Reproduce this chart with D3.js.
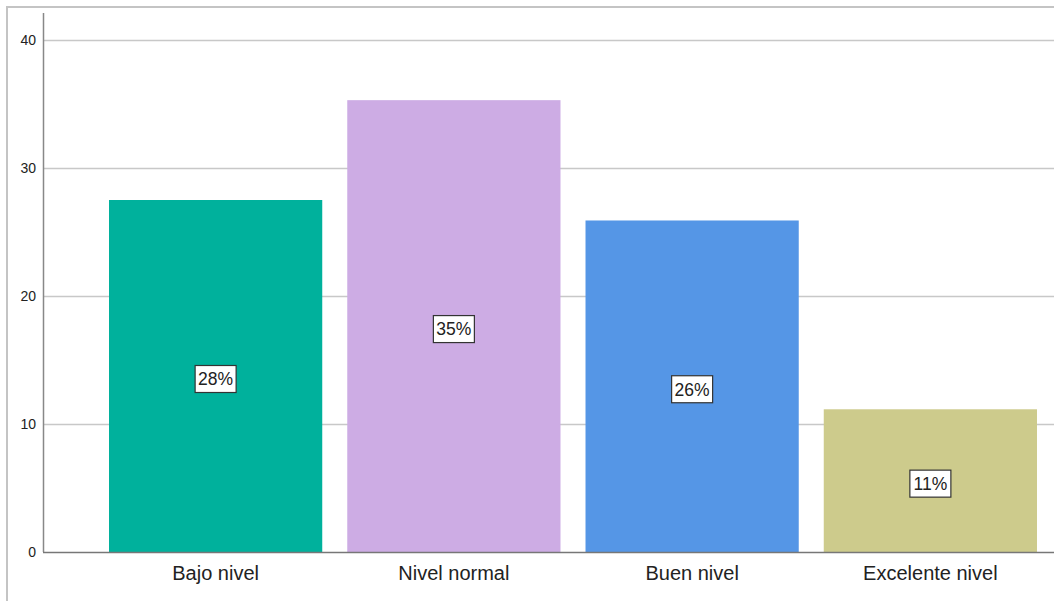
<!DOCTYPE html>
<html><head><meta charset="utf-8">
<script src="https://cdn.jsdelivr.net/npm/d3@7"></script>
<style>
html,body{margin:0;padding:0;background:#fff;}
svg{display:block;font-family:Arial,"Liberation Sans",sans-serif;}
</style></head>
<body>
<svg id="chart" width="1054" height="601"></svg>
<script>
const categories = ["Bajo nivel", "Nivel normal", "Buen nivel", "Excelente nivel"];
const values = [27.5, 35.3, 25.9, 11.15];
const labels = ["28%", "35%", "26%", "11%"];
const colors = ["#00B19C", "#CDACE4", "#5596E6", "#CDCB8C"];
const yTicks = [0, 10, 20, 30, 40];

(function () {
const svg = d3.select("#chart");
const mLeft = 43, mRight = 1054, mTop = 13, mBottom = 552;

// outer frame
svg.append("path").attr("d", "M7,601 L7,7 L1054,7")
  .attr("fill", "none").attr("stroke", "#c4c4c4").attr("stroke-width", 2);

const y = d3.scaleLinear().domain([0, 40]).range([mBottom, 40]);
const x = d3.scaleBand().domain(categories).range([96.5, 1049.5]).paddingInner(0.105).paddingOuter(0.0525);

// gridlines
svg.append("g").selectAll("line").data(yTicks.filter(d => d > 0)).join("line")
  .attr("x1", mLeft).attr("x2", mRight)
  .attr("y1", d => Math.round(y(d)) + 0.5).attr("y2", d => Math.round(y(d)) + 0.5)
  .attr("stroke", "#c8c8c8").attr("stroke-width", 1.5);

// y axis
const yAxis = d3.axisLeft(y).tickValues(yTicks).tickSize(0).tickPadding(7);
const gy = svg.append("g").attr("transform", `translate(${mLeft},0)`).call(yAxis);
gy.select(".domain").remove();
gy.selectAll("text").attr("font-size", 14).attr("fill", "#222").attr("font-family", "Arial, 'Liberation Sans', sans-serif");
svg.append("line").attr("x1", mLeft + 0.5).attr("x2", mLeft + 0.5).attr("y1", mTop).attr("y2", mBottom)
  .attr("stroke", "#888").attr("stroke-width", 1.5);

// bars
svg.append("g").selectAll("rect").data(categories).join("rect")
  .attr("x", d => x(d)).attr("width", x.bandwidth())
  .attr("y", (d, i) => y(values[i])).attr("height", (d, i) => y(0) - y(values[i]))
  .attr("fill", (d, i) => colors[i]);

// x axis line
svg.append("line").attr("x1", mLeft).attr("x2", mRight).attr("y1", mBottom + 0.5).attr("y2", mBottom + 0.5)
  .attr("stroke", "#777").attr("stroke-width", 1.5);

// x axis labels
const xAxis = d3.axisBottom(x).tickSize(0).tickPadding(14);
const gx = svg.append("g").attr("transform", `translate(0,${mBottom})`).call(xAxis);
gx.select(".domain").remove();
gx.selectAll("text").attr("font-size", 20).attr("fill", "#222").attr("font-family", "Arial, 'Liberation Sans', sans-serif");

// value labels
const lg = svg.append("g").selectAll("g").data(categories).join("g")
  .attr("transform", (d, i) => `translate(${x(d) + x.bandwidth() / 2},${(y(values[i]) + y(0)) / 2 + 3})`);
lg.append("rect").attr("x", -20.5).attr("y", -13.5).attr("width", 41).attr("height", 27)
  .attr("fill", "#fff").attr("stroke", "#333").attr("stroke-width", 1.2);
lg.append("text").text((d, i) => labels[i]).attr("text-anchor", "middle").attr("dy", "0.36em")
  .attr("font-size", 17.5).attr("fill", "#222");
})();
</script>
</body></html>
